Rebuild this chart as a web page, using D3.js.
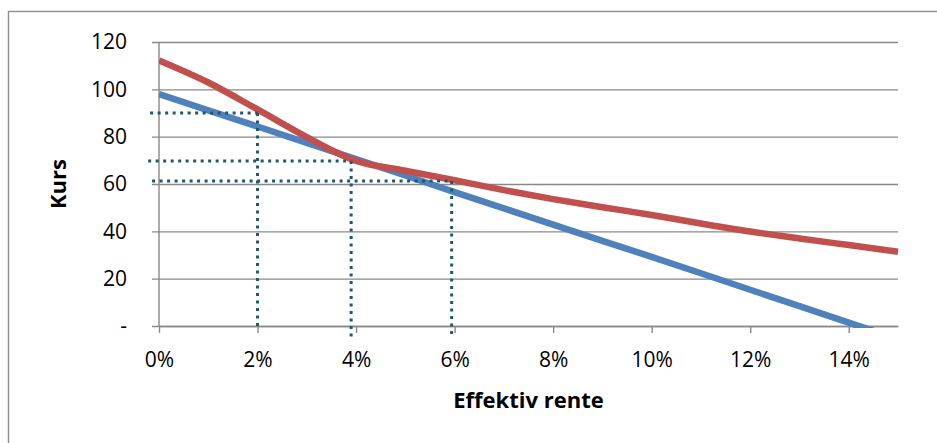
<!DOCTYPE html>
<html>
<head>
<meta charset="utf-8">
<script src="https://cdn.jsdelivr.net/npm/d3@7"></script>
<style>
  html, body { margin: 0; padding: 0; background: #fff; }
  svg { display: block; }
  text { font-family: "Open Sans", "Noto Sans", sans-serif; fill: #000; }
</style>
</head>
<body>
<svg id="chart" width="937" height="443"></svg>
<script>
// Effective interest rate (x) and bond price (Kurs)
const rates = [0, 0.01, 0.02, 0.03, 0.04, 0.05, 0.06, 0.07, 0.08, 0.09, 0.10, 0.11, 0.12, 0.13, 0.14, 0.15];
// Price curve
const kursCurve = [112.2, 102.9, 91.5, 79.8, 69.8, 65.6, 61.6, 57.4, 53.6, 50.2, 46.9, 43.3, 39.9, 37.0, 34.2, 31.4];
// Tangent (duration) line
const kursTangent = [98.0, 91.1, 84.3, 77.4, 70.5, 63.6, 56.6, 49.7, 42.8, 36.0, 29.2, 22.3, 15.3, 8.4, 1.4, -5.5];

// Reading guides: rate, price, where the horizontal starts, where the vertical ends
const guideRate = [0.02, 0.039, 0.0594];
const guideKurs = [90, 69.7, 61.3];
const guideFrom = [-0.0018, -0.0022, -0.0014];
const guideTo = [0, -5.5, -5];

const xTicks = [0, 0.02, 0.04, 0.06, 0.08, 0.10, 0.12, 0.14];
const yTicks = [0, 20, 40, 60, 80, 100, 120];

const xTitle = "Effektiv rente";
const yTitle = "Kurs";

const svg = d3.select("#chart");
const plot = { left: 159, right: 898, top: 42, bottom: 326 };

const x = d3.scaleLinear().domain([0, 0.15]).range([plot.left, plot.right]);
const y = d3.scaleLinear().domain([0, 120]).range([plot.bottom, plot.top]);

const gridColor = "#898989";
const tickFont = 21;

// Outer chart frame
svg.append("rect")
  .attr("x", 8.5).attr("y", 11.5)
  .attr("width", 1000).attr("height", 1000)
  .attr("fill", "none").attr("stroke", "#8c8c8c").attr("stroke-width", 1.4);

// Horizontal gridlines with outer ticks
const yAxis = d3.axisLeft(y)
  .tickValues(yTicks)
  .tickSize(-(plot.right - plot.left))
  .tickSizeOuter(0)
  .tickPadding(0)
  .tickFormat(d => d === 0 ? "-" : d3.format("d")(d));

const gy = svg.append("g")
  .attr("transform", `translate(${plot.left},0)`)
  .call(yAxis);
gy.select(".domain").remove();
gy.selectAll(".tick line")
  .attr("x1", -7)
  .attr("stroke", gridColor).attr("stroke-width", 1.4);
gy.selectAll(".tick text")
  .attr("x", -32)
  .attr("font-size", tickFont)
  .attr("font-family", "'Open Sans', sans-serif")
  .attr("fill", "#000");

// Vertical axis line
svg.append("line")
  .attr("x1", plot.left).attr("x2", plot.left)
  .attr("y1", plot.top).attr("y2", plot.bottom)
  .attr("stroke", gridColor).attr("stroke-width", 1.4);

// Horizontal axis
const xAxis = d3.axisBottom(x)
  .tickValues(xTicks)
  .tickSize(7)
  .tickSizeOuter(0)
  .tickPadding(0)
  .tickFormat(d3.format(".0%"));

const gx = svg.append("g")
  .attr("transform", `translate(0,${plot.bottom})`)
  .call(xAxis);
gx.select(".domain")
  .attr("stroke", gridColor).attr("stroke-width", 1.4);
gx.selectAll(".tick line")
  .attr("stroke", gridColor).attr("stroke-width", 1.4);
gx.selectAll(".tick text")
  .attr("y", 41)
  .attr("dy", null)
  .attr("font-size", tickFont)
  .attr("font-family", "'Open Sans', sans-serif")
  .attr("fill", "#000");

// Axis titles
svg.append("text")
  .attr("x", (plot.left + plot.right) / 2)
  .attr("y", 408)
  .attr("text-anchor", "middle")
  .attr("font-size", 22)
  .attr("font-weight", "bold")
  .text(xTitle);

svg.append("text")
  .attr("transform", `translate(65.5,${(plot.top + plot.bottom) / 2}) rotate(-90)`)
  .attr("text-anchor", "middle")
  .attr("font-size", 22)
  .attr("font-weight", "bold")
  .text(yTitle);

// Clip series to the plot area
svg.append("clipPath").attr("id", "plotClip")
  .append("rect")
  .attr("x", plot.left).attr("y", 0)
  .attr("width", plot.right - plot.left + 10)
  .attr("height", plot.bottom + 2);

const smoothLine = d3.line()
  .x((d, i) => x(rates[i]))
  .y(d => y(d))
  .curve(d3.curveCatmullRom.alpha(0.5));

const straightLine = d3.line()
  .x((d, i) => x(rates[i]))
  .y(d => y(d));

const series = svg.append("g").attr("clip-path", "url(#plotClip)");

series.append("path")
  .datum(kursTangent)
  .attr("d", straightLine)
  .attr("fill", "none")
  .attr("stroke", "#4F81BD")
  .attr("stroke-width", 6.5)
  .attr("stroke-linejoin", "round");

series.append("path")
  .datum(kursCurve)
  .attr("d", smoothLine)
  .attr("fill", "none")
  .attr("stroke", "#C0504D")
  .attr("stroke-width", 6.5);

// Dotted reading guides
const guideColor = "#215968";
const guides = svg.append("g");
guideRate.forEach((r, i) => {
  guides.append("line")
    .attr("x1", x(guideFrom[i])).attr("x2", x(r))
    .attr("y1", y(guideKurs[i])).attr("y2", y(guideKurs[i]))
    .attr("stroke", guideColor).attr("stroke-width", 3)
    .attr("stroke-dasharray", "3 4.5");
  guides.append("line")
    .attr("x1", x(r)).attr("x2", x(r))
    .attr("y1", y(guideKurs[i])).attr("y2", y(guideTo[i]))
    .attr("stroke", guideColor).attr("stroke-width", 3)
    .attr("stroke-dasharray", "3 4.5");
});
</script>
</body>
</html>
